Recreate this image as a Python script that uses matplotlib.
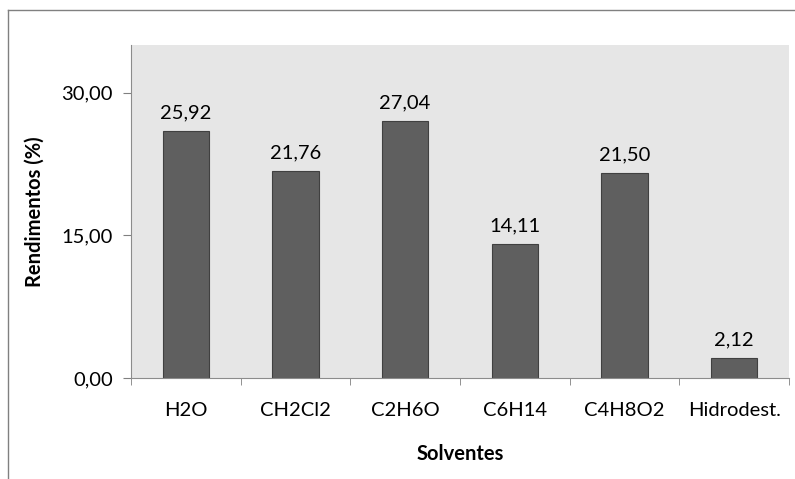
import numpy as np
import matplotlib
matplotlib.use("Agg")
import matplotlib.pyplot as plt
from matplotlib.lines import Line2D

solventes = ['H2O', 'CH2Cl2', 'C2H6O', 'C6H14', 'C4H8O2', 'Hidrodest.']
rendimentos = [25.92, 21.76, 27.04, 14.11, 21.50, 2.12]
yticks = [0, 15, 30]

plt.rcParams['font.family'] = ['Lato', 'DejaVu Sans']

W, H = 795, 479
fig = plt.figure(figsize=(W/100, H/100), dpi=100)
ax = fig.add_axes([131/W, 1-378/H, (789-131)/W, (378-45)/H])
ax.set_facecolor('#e6e6e6')

x = np.arange(len(solventes))
ax.bar(x, rendimentos, width=0.42, color='#5f5f5f', edgecolor='#404040', linewidth=0.8, zorder=2)
for xi, v in zip(x, rendimentos):
    ax.annotate(('%.2f' % v).replace('.', ','), (xi, v), xytext=(0, 7), textcoords='offset points',
                ha='center', va='bottom', fontsize=14.5)

ax.set_xlim(-0.5, len(solventes)-0.5)
ax.set_ylim(0, 35)
ax.set_yticks(yticks)
ax.set_yticklabels([('%.2f' % t).replace('.', ',') for t in yticks], fontsize=14.5)
ax.set_xticks(x)
ax.set_xticklabels(solventes, fontsize=14.5)
ax.tick_params(axis='x', length=0, pad=17)
ax.set_xticks(np.arange(len(solventes)+1)-0.5, minor=True)
ax.tick_params(axis='x', which='minor', length=5, color='#808080')
ax.tick_params(axis='y', length=6, color='#808080', pad=7)

for s in ['top', 'right']:
    ax.spines[s].set_visible(False)
for s in ['left', 'bottom']:
    ax.spines[s].set_color('#8c8c8c')

ax.set_xlabel('Solventes', fontsize=14.5, fontweight='bold', labelpad=18)
ax.set_ylabel('Rendimentos (%)', fontsize=14.5, fontweight='bold', labelpad=12)

# chart frame (only top and left visible)
fig.add_artist(Line2D([7.5/W, 7.5/W], [0, 1-9.5/H], color='#808080', lw=1, transform=fig.transFigure))
fig.add_artist(Line2D([7.5/W, 1], [1-9.5/H, 1-9.5/H], color='#808080', lw=1, transform=fig.transFigure))

fig.savefig('out.png', dpi=100)
